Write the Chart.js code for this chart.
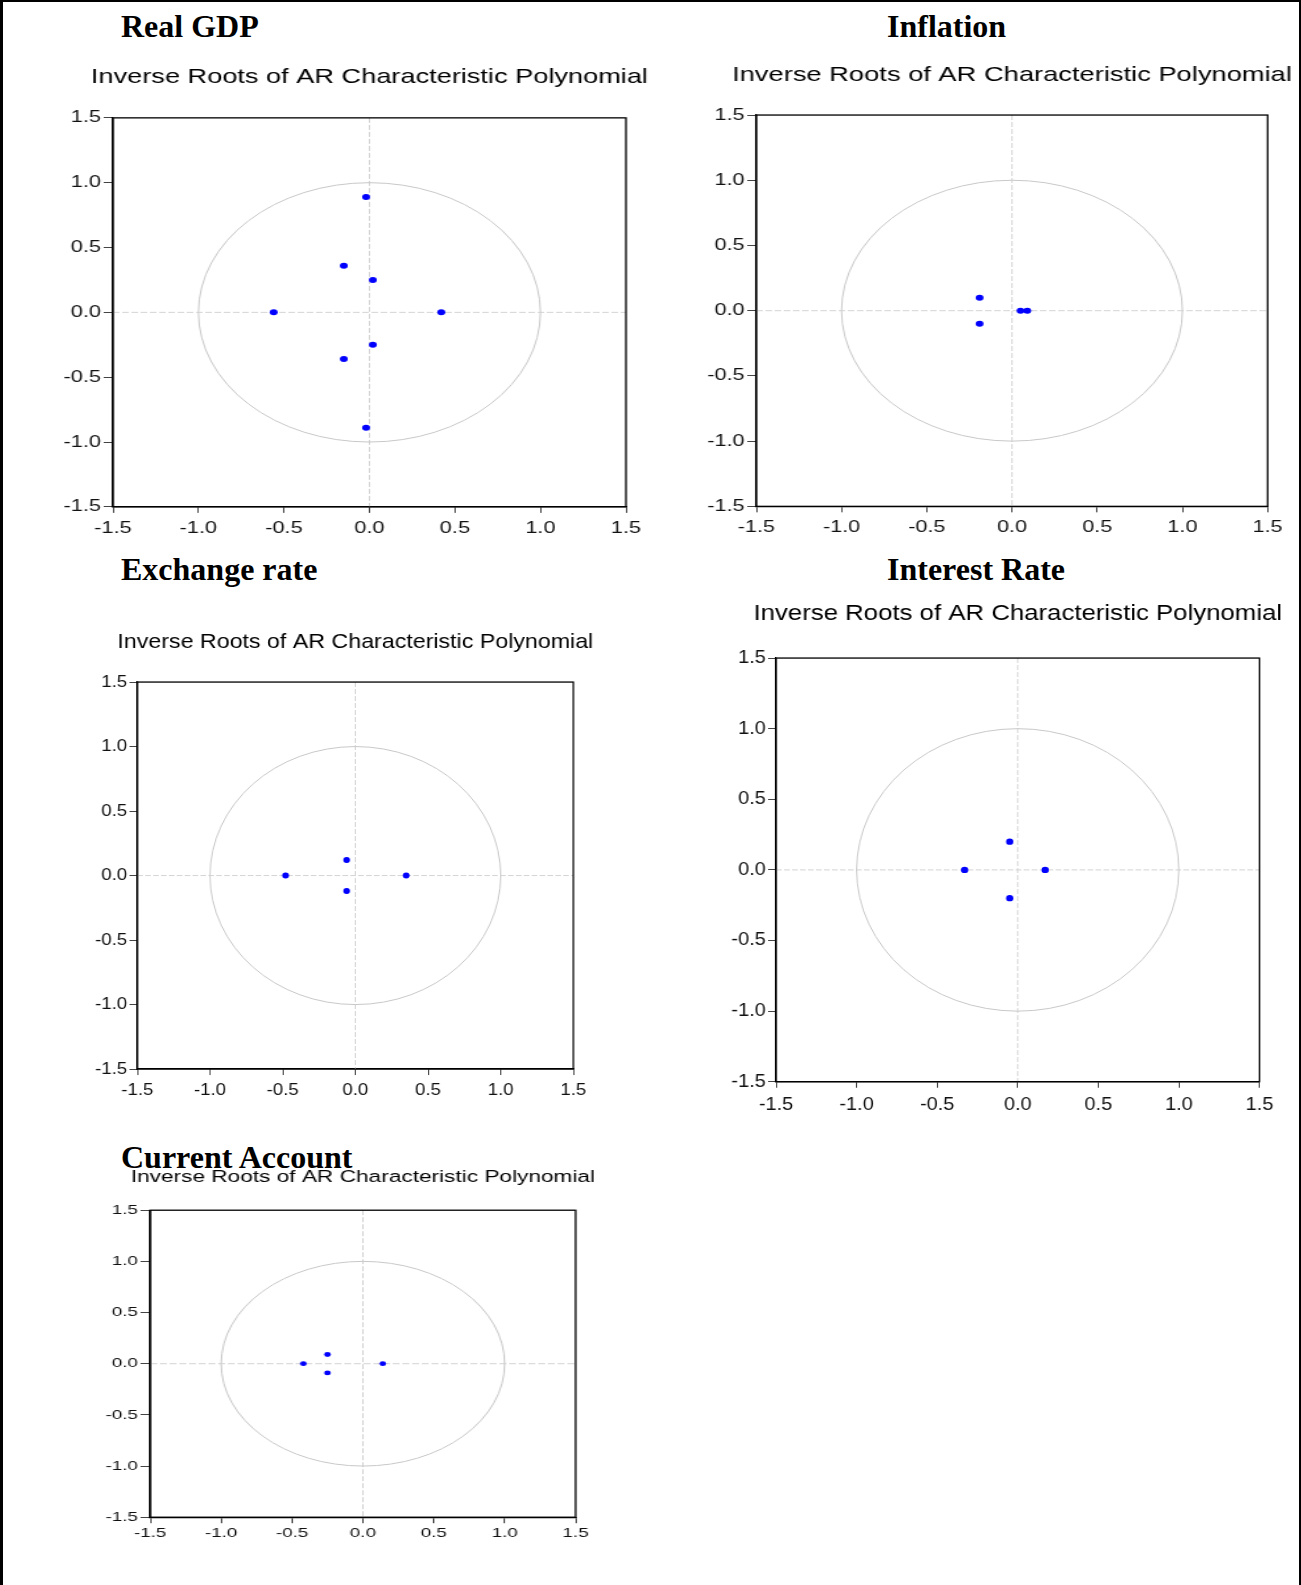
<!DOCTYPE html>
<html lang="en">
<head>
    <meta charset="UTF-8">
    <title>Inverse Roots of AR Characteristic Polynomial</title>
    <script src="https://cdn.jsdelivr.net/npm/chart.js"></script>
    <style>
        html, body { margin: 0; padding: 0; background: #fff; overflow: hidden; }
        #frame {
            position: absolute; left: 0; top: 0; width: 1301px; height: 1700px;
            box-sizing: border-box; border: 2px solid #000; border-left-width: 3px;
        }
        .ptitle {
            position: absolute; font: bold 32px "Liberation Serif", "Times New Roman", serif;
            line-height: 32px; white-space: nowrap; color: #000;
        }
        canvas { position: absolute; transform-origin: 0 0; }
    </style>
</head>
<body>
    <div id="frame"></div>

    <script>
        // data
        const axisTicks = [-1.5, -1.0, -0.5, 0.0, 0.5, 1.0, 1.5];
        const panelTitles = ['Real GDP', 'Inflation', 'Exchange rate', 'Interest Rate', 'Current Account'];
        const polyTitle = 'Inverse Roots of AR Characteristic Polynomial';

        // real and imaginary parts of the inverse roots
        const gdpRe = [-0.56, 0.42, -0.15, -0.15, 0.02, 0.02, -0.02, -0.02];
        const gdpIm = [0.00, 0.00, 0.36, -0.36, 0.25, -0.25, 0.89, -0.89];
        const inflRe = [-0.19, -0.19, 0.05, 0.09];
        const inflIm = [0.10, -0.10, 0.00, 0.00];
        const exchRe = [-0.48, 0.35, -0.06, -0.06];
        const exchIm = [0.00, 0.00, 0.12, -0.12];
        const intRe = [-0.33, 0.17, -0.05, -0.05];
        const intIm = [0.00, 0.00, 0.20, -0.20];
        const caRe = [-0.42, 0.14, -0.25, -0.25];
        const caIm = [0.00, 0.00, 0.09, -0.09];

        // where each plot box sits on the page (L,R,T,B) and its text sizes
        const panels = [
            { re: gdpRe, im: gdpIm, L: 112.5, R: 625.5, T: 117.5, B: 506.5, subY: 77, subFs: 20.6, tickFs: 16.5, xPad: 6, dot: 3, tx: 121, ty: 10 },
            { re: inflRe, im: inflIm, L: 756.7, R: 1268, T: 115, B: 506.3, subY: 75.5, subFs: 20.9, tickFs: 16.5, xPad: 5, dot: 3, tx: 887, ty: 10 },
            { re: exchRe, im: exchIm, L: 137.3, R: 573.3, T: 681.7, B: 1068.7, subY: 642, subFs: 20.6, tickFs: 16.5, xPad: 5.5, dot: 3, tx: 121, ty: 553 },
            { re: intRe, im: intIm, L: 776, R: 1259.4, T: 658, B: 1081.7, subY: 613.5, subFs: 22.6, tickFs: 17.5, xPad: 7, dot: 3.2, tx: 887, ty: 553 },
            { re: caRe, im: caIm, L: 150.7, R: 576, T: 1210.7, B: 1517.7, subY: 1178.3, subFs: 16.35, tickFs: 13.5, xPad: 1.5, dot: 2.4, tx: 121, ty: 1141 }
        ];

        // zero lines, unit circle and the box round the plot
        const rootsPlot = {
            id: 'rootsPlot',
            afterLayout(chart) {
                // keep the heading centred on the plot but let it run wider than it
                const tb = chart.titleBlock;
                const mid = (chart.chartArea.left + chart.chartArea.right) / 2;
                tb.left = mid - 1000;
                tb.right = mid + 1000;
                tb.width = 2000;
            },
            beforeDatasetsDraw(chart) {
                const { ctx, chartArea: a, scales: { x, y } } = chart;
                const x0 = x.getPixelForValue(0), y0 = y.getPixelForValue(0);
                ctx.save();
                ctx.strokeStyle = '#d4d4d4';
                ctx.lineWidth = 1;
                ctx.setLineDash([5, 2]);
                ctx.beginPath();
                ctx.moveTo(a.left, y0); ctx.lineTo(a.right, y0);
                ctx.moveTo(x0, a.top); ctx.lineTo(x0, a.bottom);
                ctx.stroke();
                ctx.setLineDash([]);
                ctx.strokeStyle = '#c8c8c8';
                ctx.beginPath();
                const rx = x.getPixelForValue(1) - x0;
                const ry = y0 - y.getPixelForValue(1);
                ctx.ellipse(x0, y0, rx, ry, 0, 0, Math.PI * 2);
                ctx.stroke();
                ctx.restore();
            },
            afterDraw(chart) {
                const { ctx, chartArea: a } = chart;
                ctx.save();
                ctx.strokeStyle = '#000';
                ctx.lineWidth = 1.3;
                ctx.strokeRect(a.left, a.top, a.right - a.left, a.bottom - a.top);
                ctx.restore();
            }
        };

        Chart.defaults.font.family = '"Liberation Sans", Arial, sans-serif';
        Chart.defaults.color = '#000';

        panels.forEach((p, i) => {
            const t = document.createElement('div');
            t.className = 'ptitle';
            t.textContent = panelTitles[i];
            t.style.left = p.tx + 'px';
            t.style.top = p.ty + 'px';
            document.body.appendChild(t);

            // the original graphs are stretched sideways, so the canvas is too
            const sx = (p.R - p.L) / (p.B - p.T);
            const plotW = (p.R - p.L) / sx;
            const yW = 50;
            const W = Math.round(yW + plotW + 60);
            const padR = W - yW - plotW;
            const top = p.subY - 0.6 * p.subFs;
            const H = Math.round(p.B - top + 34);
            const xH = H - (p.B - top);

            const canvas = document.createElement('canvas');
            canvas.width = W;
            canvas.height = H;
            canvas.style.left = (p.L - sx * yW) + 'px';
            canvas.style.top = top + 'px';
            canvas.style.transform = 'scaleX(' + sx + ')';
            document.body.appendChild(canvas);

            const points = p.re.map((r, k) => ({ x: r, y: p.im[k] }));
            const axis = (horiz) => ({
                type: 'linear',
                min: -1.5,
                max: 1.5,
                afterBuildTicks: s => { s.ticks = axisTicks.map(v => ({ value: v })); },
                afterFit: s => { if (horiz) s.height = xH; else s.width = yW; },
                grid: { drawOnChartArea: false, tickLength: horiz ? 6 : 7, tickColor: '#444', tickWidth: 1 },
                border: { display: true, color: '#000', width: 1.3 },
                ticks: {
                    autoSkip: false, maxRotation: 0, padding: horiz ? p.xPad : 2,
                    font: { size: p.tickFs }, color: '#111',
                    callback: v => Number(v).toFixed(1)
                }
            });

            new Chart(canvas, {
                type: 'scatter',
                data: {
                    datasets: [{
                        data: points,
                        pointStyle: 'circle',
                        pointRadius: p.dot,
                        pointBorderWidth: 0,
                        backgroundColor: '#0000ff',
                        borderColor: '#0000ff'
                    }]
                },
                options: {
                    responsive: false,
                    animation: false,
                    devicePixelRatio: 1,
                    layout: { padding: { left: 0, top: 0, right: padR, bottom: 0 } },
                    scales: { x: axis(true), y: axis(false) },
                    plugins: {
                        legend: { display: false },
                        tooltip: { enabled: false },
                        title: {
                            display: true,
                            text: polyTitle,
                            fullSize: false,
                            color: '#000',
                            font: { size: p.subFs, weight: 'normal', lineHeight: 1.2 },
                            padding: { top: 0, bottom: p.T - p.subY - 0.6 * p.subFs }
                        }
                    }
                },
                plugins: [rootsPlot]
            });
        });
    </script>
</body>
</html>
